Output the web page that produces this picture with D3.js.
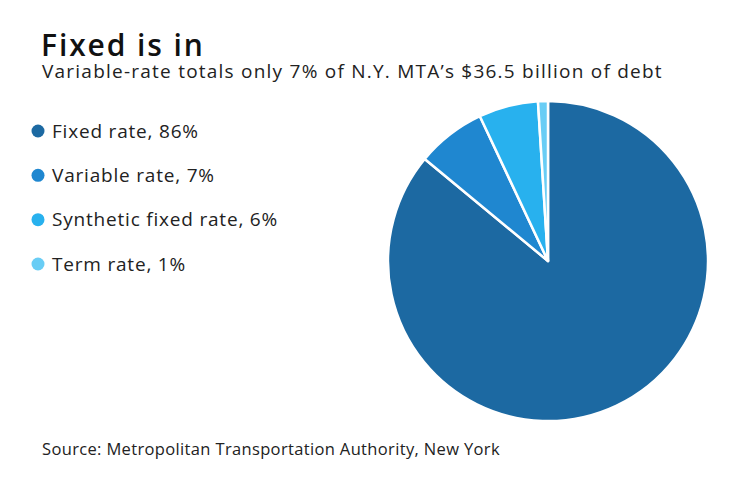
<!DOCTYPE html>
<html>
<head>
<meta charset="utf-8">
<script src="https://cdn.jsdelivr.net/npm/d3@7"></script>
<style>
  body { margin: 0; background: #fff; }
  svg text { font-family: "Open Sans", sans-serif; fill: #222; }
</style>
</head>
<body>
<div id="chart"></div>
<script>
// data
const categories = ["Fixed rate", "Variable rate", "Synthetic fixed rate", "Term rate"];
const shares = [86, 7, 6, 1];
const colors = ["#1c69a2", "#1f87d0", "#28b1ee", "#69cdf5"];

const width = 740, height = 482;
const svg = d3.select("#chart").append("svg")
    .attr("width", width)
    .attr("height", height);

// title
svg.append("text")
    .attr("x", 41).attr("y", 56)
    .style("font-size", "30px")
    .style("font-weight", "600")
    .style("letter-spacing", "1.9px")
    .style("fill", "#111")
    .text("Fixed is in");

svg.append("text")
    .attr("x", 42).attr("y", 78)
    .style("font-size", "19px")
    .style("letter-spacing", "1.23px")
    .text("Variable-rate totals only 7% of N.Y. MTA\u2019s $36.5 billion of debt");

// legend
const legendY = d3.scalePoint().domain(categories).range([131, 264]);
const legend = svg.append("g");
categories.forEach((c, i) => {
    legend.append("circle")
        .attr("cx", 38).attr("cy", legendY(c))
        .attr("r", 6.5)
        .attr("fill", colors[i]);
    legend.append("text")
        .attr("x", 52).attr("y", legendY(c))
        .attr("dy", "0.35em")
        .style("font-size", "19px")
        .style("letter-spacing", "0.8px")
        .text(`${c}, ${shares[i]}%`);
});

// pie
const radius = 160;
const pie = d3.pie().sort(null).value(d => d);
const arc = d3.arc().innerRadius(0).outerRadius(radius);
const g = svg.append("g").attr("transform", "translate(548,261)");
g.selectAll("path")
    .data(pie(shares))
    .join("path")
    .attr("d", arc)
    .attr("fill", (d, i) => colors[i])
    .attr("stroke", "#fff")
    .attr("stroke-width", 2.5)
    .attr("stroke-linejoin", "round");

// source
svg.append("text")
    .attr("x", 42).attr("y", 455)
    .style("font-size", "16.5px")
    .style("letter-spacing", "0.35px")
    .text("Source: Metropolitan Transportation Authority, New York");
</script>
</body>
</html>
